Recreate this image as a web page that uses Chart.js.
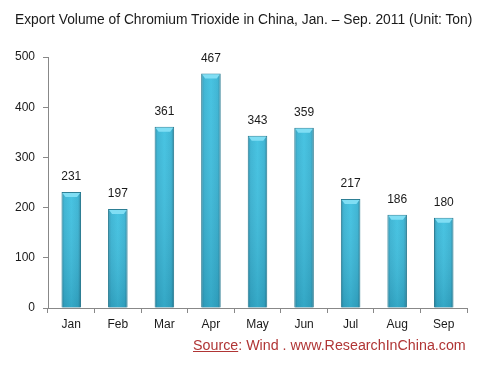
<!DOCTYPE html>
<html>
<head>
<meta charset="utf-8">
<script src="https://cdn.jsdelivr.net/npm/chart.js@4/dist/chart.umd.min.js"></script>
<style>
  html, body { margin: 0; padding: 0; background: #fff; }
  #wrap { position: relative; width: 481px; height: 368px; }
  #c { position: absolute; left: 0; top: 0; }
  #title { position: absolute; left: 15px; top: 11px; white-space: nowrap;
    font-family: "Liberation Sans", sans-serif; font-size: 13px; color: #1a1a1a; }
  #source { position: absolute; left: 193px; top: 337px; white-space: nowrap;
    font-family: "Liberation Sans", sans-serif; font-size: 14px; color: #b03535; }
  #source u { text-decoration: underline; }
</style>
</head>
<body>
<div id="wrap">
  <canvas id="c" width="481" height="368"></canvas>
  <div id="title">Export Volume of Chromium Trioxide in China, Jan. – Sep. 2011 (Unit: Ton)</div>
  <div id="source"><u>Source</u>: Wind . www.ResearchInChina.com</div>
</div>
<script>
const categories = ["Jan", "Feb", "Mar", "Apr", "May", "Jun", "Jul", "Aug", "Sep"];
const exportVolume = [231, 197, 361, 467, 343, 359, 217, 186, 180];
const yTicks = [0, 100, 200, 300, 400, 500];

function fitWidth(el, target) {
  const w = el.getBoundingClientRect().width;
  const fs = parseFloat(getComputedStyle(el).fontSize);
  el.style.fontSize = (fs * target / w) + "px";
}
fitWidth(document.getElementById("title"), 458);
fitWidth(document.getElementById("source"), 273);

const barStyle = {
  id: "barStyle",
  beforeDatasetsDraw(chart) {
    const ctx = chart.ctx;
    const meta = chart.getDatasetMeta(0);
    meta.data.forEach(bar => {
      const { x, width } = bar.getProps(["x", "width"], true);
      const left = x - width / 2, right = x + width / 2;
      const g = ctx.createLinearGradient(left, 0, right, 0);
      g.addColorStop(0, "#2b8aa6");
      g.addColorStop(0.15, "#37b2d2");
      g.addColorStop(0.5, "#3ec0e0");
      g.addColorStop(0.85, "#37b2d2");
      g.addColorStop(1, "#277f99");
      bar.options = Object.assign({}, bar.options, { backgroundColor: g });
    });
  },
  afterDatasetsDraw(chart) {
    const ctx = chart.ctx;
    const meta = chart.getDatasetMeta(0);
    const bottom = chart.scales.y.getPixelForValue(0);
    meta.data.forEach((bar, i) => {
      const { x, y, width } = bar.getProps(["x", "y", "width"], true);
      const left = x - width / 2, right = x + width / 2;
      const v = ctx.createLinearGradient(0, y, 0, bottom);
      v.addColorStop(0, "rgba(255,255,255,0.05)");
      v.addColorStop(1, "rgba(0,40,60,0.16)");
      ctx.save();
      ctx.fillStyle = v;
      ctx.fillRect(left + 1, y, width - 2, bottom - y);
      ctx.beginPath();
      ctx.moveTo(left + 1, y + 1);
      ctx.lineTo(right - 1, y + 1);
      ctx.lineTo(right - 4, y + 5);
      ctx.lineTo(left + 4, y + 5);
      ctx.closePath();
      ctx.fillStyle = "#80def4";
      ctx.fill();
      ctx.fillStyle = "#1a1a1a";
      ctx.font = "12px 'Liberation Sans', sans-serif";
      ctx.textAlign = "center";
      ctx.textBaseline = "bottom";
      ctx.fillText(String(exportVolume[i]), x, y - 9);
      ctx.restore();
    });
  }
};

new Chart(document.getElementById("c"), {
  type: "bar",
  data: {
    labels: categories,
    datasets: [{
      data: exportVolume,
      backgroundColor: "#38b4d4",
      borderColor: "#23788f",
      borderWidth: 1,
      categoryPercentage: 1,
      barPercentage: 0.42
    }]
  },
  options: {
    responsive: false,
    animation: false,
    layout: { padding: { left: 0, right: 14, top: 57, bottom: 0 } },
    plugins: { legend: { display: false }, tooltip: { enabled: false } },
    scales: {
      x: {
        grid: { offset: true, drawOnChartArea: false, tickLength: 5, color: "#888" },
        border: { color: "#888" },
        ticks: { color: "#1a1a1a", font: { family: "Liberation Sans", size: 12 }, padding: 4 },
        afterFit(s) { s.height = 60; }
      },
      y: {
        min: 0, max: 500,
        afterBuildTicks(s) { s.ticks = yTicks.map(v => ({ value: v })); },
        grid: { drawOnChartArea: false, tickLength: 5, color: "#888" },
        border: { color: "#888" },
        ticks: { color: "#1a1a1a", font: { family: "Liberation Sans", size: 12 }, padding: 8 },
        afterFit(s) { s.width = 48; }
      }
    }
  },
  plugins: [barStyle]
});
</script>
</body>
</html>
